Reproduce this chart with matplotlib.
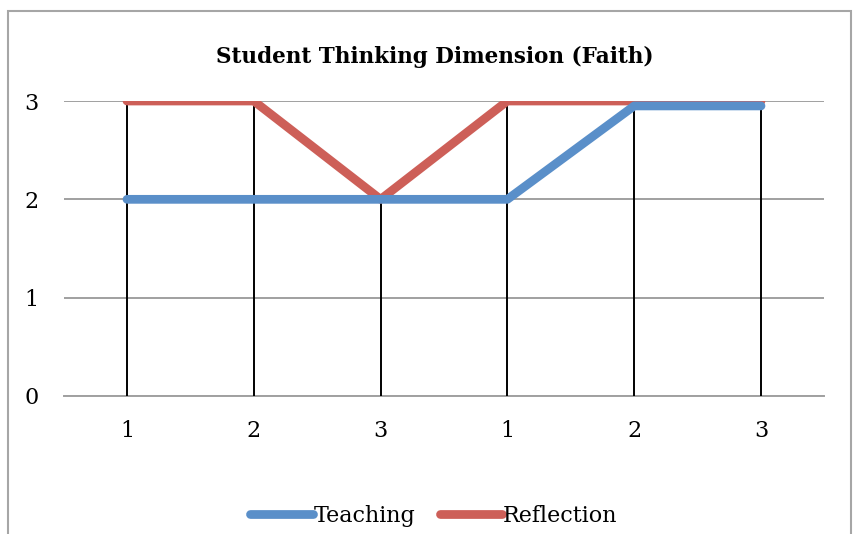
import matplotlib
matplotlib.use("Agg")
import matplotlib.pyplot as plt
from matplotlib.patches import Rectangle

categories = ["1", "2", "3", "1", "2", "3"]
teaching = [2, 2, 2, 2, 2.95, 2.95]
reflection = [3, 3, 2, 3, 3, 3]
yticks = [0, 1, 2, 3]
title = "Student Thinking Dimension (Faith)"

W, H = 855, 534
fig = plt.figure(figsize=(W/100, H/100), dpi=100)
serif = ["DejaVu Serif"]

# chart border
fig.patches.append(Rectangle((8/W, -0.05), (851-8)/W, 1 - 11/H + 0.05,
                             transform=fig.transFigure, fill=False,
                             edgecolor="#A6A6A6", linewidth=1.5))

ax = fig.add_axes([63.6/W, 1-396/H, (824.4-63.6)/W, (396-101)/H])
x = list(range(len(categories)))
ax.set_xlim(-0.5, len(categories)-0.5)
ax.set_ylim(0, 3)
for s in ax.spines.values():
    s.set_visible(False)
ax.set_yticks(yticks)
ax.yaxis.grid(True, color="#A0A0A0", linewidth=1.4, zorder=0)
ax.set_axisbelow(True)
ax.tick_params(length=0)
ax.tick_params(axis="y", pad=18)
ax.tick_params(axis="x", pad=17)
ax.set_xticks(x)
ax.set_xticklabels(categories)
for lab in ax.get_xticklabels() + ax.get_yticklabels():
    lab.set_fontfamily(serif)
    lab.set_fontsize(16)
ax.axhline(0, color="#A0A0A0", linewidth=1.4, zorder=1, clip_on=False)

tops = [max(a, b) for a, b in zip(teaching, reflection)]
ax.vlines(x, 0, tops, colors="black", linewidth=1.4, zorder=2)

lr, = ax.plot(x, reflection, color="#CD5F58", linewidth=6.3, solid_capstyle="round",
              solid_joinstyle="round", zorder=3, label="Reflection")
lt, = ax.plot(x, teaching, color="#5A8FC9", linewidth=6.3, solid_capstyle="round",
              solid_joinstyle="round", zorder=4, label="Teaching")

fig.text(435/W, 1-57/H, title, ha="center", va="center", fontfamily=serif,
         fontsize=15.5, fontweight="bold")

leg = fig.legend([lt, lr], ["Teaching", "Reflection"], loc="center",
                 bbox_to_anchor=(434/W, 1-516/H), ncol=2, frameon=False,
                 prop={"family": serif, "size": 16}, handlelength=2.8,
                 handletextpad=0.05, columnspacing=1.1, borderaxespad=0)

fig.savefig("out.png", dpi=100)
